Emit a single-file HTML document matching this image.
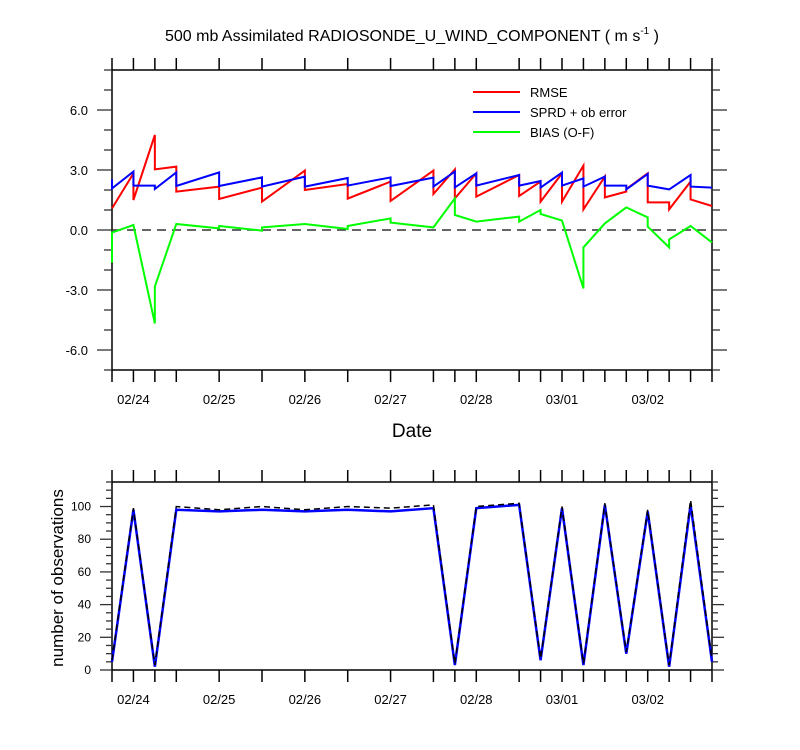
<!DOCTYPE html>
<html><head><meta charset="utf-8">
<style>
html,body{margin:0;padding:0;background:#fff;}
svg{display:block;font-family:"Liberation Sans",sans-serif;}
</style></head>
<body>
<svg id="chart" width="800" height="750" viewBox="0 0 800 750" xmlns="http://www.w3.org/2000/svg">
<text x="412" y="41" font-size="16" text-anchor="middle">500 mb Assimilated RADIOSONDE_U_WIND_COMPONENT ( m s<tspan font-size="10" dy="-7">-1</tspan><tspan dy="7"> )</tspan></text>
<text x="412" y="437" font-size="19" text-anchor="middle">Date</text>
<text transform="translate(63,578) rotate(-90)" font-size="17" text-anchor="middle">number of observations</text>
<g id="topPanel"></g>
<g id="botPanel"></g>
<g>
<line x1="473" y1="92" x2="520" y2="92" stroke="#ff0000" stroke-width="2"/>
<text x="530" y="97" font-size="13">RMSE</text>
<line x1="473" y1="112" x2="520" y2="112" stroke="#0000ff" stroke-width="2"/>
<text x="530" y="117" font-size="13">SPRD + ob error</text>
<line x1="473" y1="132" x2="520" y2="132" stroke="#00ff00" stroke-width="2"/>
<text x="530" y="137" font-size="13">BIAS (O-F)</text>
</g>
</svg>
<script>
// time index in 6-hour steps from 02/23 18Z
const times = [0,1,2,3,5,7,9,11,13,15,16,17,19,20,21,22,23,24,25,26,27,28];
const dayLabels = ["02/24","02/25","02/26","02/27","02/28","03/01","03/02"];
const dayIdx = [1,5,9,13,17,21,25];
const rmseA = [1.08,2.83,4.75,3.17,2.17,2.12,2.97,2.3,2.42,2.97,3.03,2.83,2.75,2.42,2.83,3.22,2.67,1.92,2.83,1.38,2.42,1.2];
const rmseB = [1.08,1.5,3.03,1.92,1.55,1.42,2.0,1.57,1.45,1.8,1.58,1.67,1.7,1.42,1.42,1.03,1.63,2.05,1.38,1.03,1.53,1.2];
const sprdA = [2.53,2.92,2.22,2.88,2.88,2.63,2.67,2.6,2.63,2.62,2.92,2.83,2.75,2.45,2.87,2.58,2.67,2.22,2.8,2.03,2.75,2.12];
const sprdB = [2.08,2.22,2.05,2.2,2.2,2.17,2.17,2.22,2.2,2.17,2.13,2.22,2.22,2.12,2.22,2.17,2.22,2.03,2.22,2.03,2.17,2.12];
const biasA = [-1.63,0.25,-4.67,0.3,0.08,-0.03,0.3,0.05,0.58,0.13,1.58,0.42,0.67,1.0,0.47,-2.92,0.33,1.13,0.63,-0.87,0.2,-0.62];
const biasB = [-0.13,0.25,-2.83,0.3,0.2,0.13,0.3,0.2,0.37,0.13,0.75,0.42,0.42,0.8,0.47,-0.87,0.33,1.13,0.17,-0.47,0.2,-0.62];
const nobsUsed = [5,98,2,98,97,98,97,98,97,99,3,99,101,6,99,3,101,10,97,2,101,5];
const nobsTotal = [6,99,3,100,98,100,98,100,99,101,4,100,102,7,100,4,102,11,98,3,104,6];
const topTicks = [-6,-3,0,3,6];
const botTicks = [0,20,40,60,80,100];

const NS="http://www.w3.org/2000/svg";
const L=112,R=712;
const xs=t=>L+(R-L)*t/28;
const TT=70,TB=370,yT=v=>TB-(v-(-7))*(TB-TT)/15;
const BT=482,BB=670,yB=v=>BB-v*(BB-BT)/115;
function mk(p,tag,a,name){const e=document.createElementNS(NS,tag);for(const k in a)e.setAttribute(k,a[k]);


p.appendChild(e);return e;}
function frame(g,t0,b0,pre){
 mk(g,'rect',{x:L,y:t0,width:R-L,height:b0-t0,fill:'none',stroke:'#000','stroke-width':1.5},pre+'-frame');
 times.forEach(t=>{const x=xs(t);
  mk(g,'line',{x1:x,y1:b0,x2:x,y2:b0+12,stroke:'#000','stroke-width':1.5},pre+'-x-tick');
  mk(g,'line',{x1:x,y1:t0,x2:x,y2:t0-12,stroke:'#000','stroke-width':1.5},pre+'-x-tick-top');});
 dayIdx.forEach((t,i)=>{const tx=mk(g,'text',{x:xs(t),y:b0+34,'font-size':13,'text-anchor':'middle'},pre+'-x-label');tx.textContent=dayLabels[i];});
}
const gTop=document.getElementById('topPanel'),gBot=document.getElementById('botPanel');
frame(gTop,TT,TB,'top');frame(gBot,BT,BB,'bottom');
for(let v=-7;v<=8;v++){const y=yT(v),maj=v%3===0,len=maj?15:8;
 mk(gTop,'line',{x1:L-len,y1:y,x2:L,y2:y,stroke:'#333','stroke-width':1.3},'top-y-tick');
 mk(gTop,'line',{x1:R,y1:y,x2:R+len,y2:y,stroke:'#333','stroke-width':1.3},'top-y-tick-right');}
topTicks.forEach(v=>{const t=mk(gTop,'text',{x:88,y:yT(v)+5,'font-size':13,'text-anchor':'end'},'top-y-label');t.textContent=v.toFixed(1);});
for(let v=0;v<=115;v+=5){const y=yB(v),maj=v%20===0,len=maj?12:6;
 mk(gBot,'line',{x1:L-len,y1:y,x2:L,y2:y,stroke:'#333','stroke-width':1.3},'bottom-y-tick');
 mk(gBot,'line',{x1:R,y1:y,x2:R+len,y2:y,stroke:'#333','stroke-width':1.3},'bottom-y-tick-right');}
botTicks.forEach(v=>{const t=mk(gBot,'text',{x:91,y:yB(v)+4,'font-size':12,'text-anchor':'end'},'bottom-y-label');t.textContent=v;});
mk(gTop,'line',{x1:L,y1:yT(0),x2:R,y2:yT(0),stroke:'#333','stroke-width':1.6,'stroke-dasharray':'9,6'},'zero-line');
function saw(a,b){let p=[];times.forEach((t,i)=>{p.push(xs(t)+','+yT(a[i]));p.push(xs(t)+','+yT(b[i]));});return p.join(' ');}
mk(gTop,'polyline',{points:saw(rmseA,rmseB),fill:'none',stroke:'#ff0000','stroke-width':2},'rmse-line');
mk(gTop,'polyline',{points:saw(sprdA,sprdB),fill:'none',stroke:'#0000ff','stroke-width':2},'sprd-line');
mk(gTop,'polyline',{points:saw(biasA,biasB),fill:'none',stroke:'#00ff00','stroke-width':2},'bias-line');
mk(gBot,'polyline',{points:times.map((t,i)=>xs(t)+','+yB(nobsUsed[i])).join(' '),fill:'none',stroke:'#0000ff','stroke-width':2.5},'nobs-used-line');
mk(gBot,'polyline',{points:times.map((t,i)=>xs(t)+','+yB(nobsTotal[i])).join(' '),fill:'none',stroke:'#000','stroke-width':1.5,'stroke-dasharray':'6,4'},'nobs-total-line');
</script>
</body></html>
